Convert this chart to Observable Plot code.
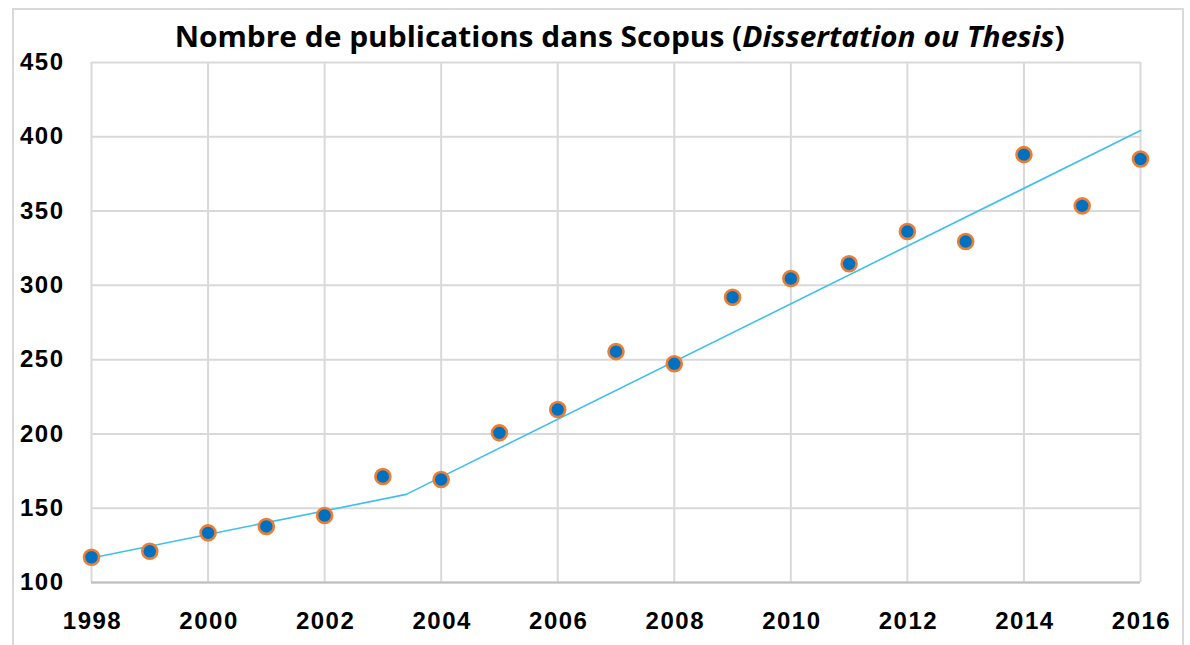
<!DOCTYPE html>
<html>
<head>
<meta charset="utf-8">
<script src="https://cdn.jsdelivr.net/npm/d3@7"></script>
<script src="https://cdn.jsdelivr.net/npm/@observablehq/plot@0.6"></script>
<style>
  html, body { margin: 0; padding: 0; background: #fff; width: 1190px; height: 645px; overflow: hidden; }
  #frame { position: absolute; left: 12px; top: 8px; width: 1172px; height: 660px; border: 2px solid #d9d9d9; box-sizing: border-box; }
  #title { position: absolute; left: 0; top: 17px; width: 1240px; text-align: center; white-space: nowrap;
           font-family: "Open Sans", "Liberation Sans", sans-serif; font-weight: 700; font-size: 28px; color: #000; }
  #title span { display: inline-block; transform-origin: center center; }
  #chart { position: absolute; left: 0; top: 50px; }
  #chart svg text { font-family: "Liberation Sans", Arial, sans-serif; font-weight: 700; font-size: 24px; letter-spacing: 1.5px; fill: #000; }
</style>
</head>
<body>
<div id="frame"></div>
<div id="title"><span id="tspan">Nombre de publications dans Scopus (<i>Dissertation ou Thesis</i>)</span></div>
<div id="chart"></div>
<script>
const years = [1998,1999,2000,2001,2002,2003,2004,2005,2006,2007,2008,2009,2010,2011,2012,2013,2014,2015,2016];
const publications = [117,121,133.4,137.7,145.1,171.3,169.3,200.7,216.4,255.4,247.2,292,304.6,314.5,336.2,329.5,388,353.5,385];
const trendYears = [1998, 2003.4, 2016];
const trendValues = [116.5, 159.3, 404.2];
const xTicks = [1998,2000,2002,2004,2006,2008,2010,2012,2014,2016];
const yTicks = [100,150,200,250,300,350,400,450];

const points = years.map((y, i) => ({year: y, value: publications[i]}));
const trend = trendYears.map((y, i) => ({year: y, value: trendValues[i]}));

const chart = Plot.plot({
  width: 1190,
  height: 595,
  marginLeft: 91,
  marginRight: 50,
  marginTop: 12,
  marginBottom: 63,
  style: {background: "transparent", overflow: "visible"},
  x: {domain: [1998, 2016], ticks: xTicks, tickFormat: d => String(d), label: null},
  y: {domain: [100, 450], ticks: yTicks, label: null},
  marks: [
    Plot.gridY(yTicks, {stroke: "#d9d9d9", strokeOpacity: 1, strokeWidth: 2}),
    Plot.gridX(xTicks, {stroke: "#d9d9d9", strokeOpacity: 1, strokeWidth: 2}),
    Plot.ruleY([100], {stroke: "#bfbfbf", strokeWidth: 2}),
    Plot.axisX({ticks: xTicks, tickSize: 0, tickPadding: 29, dx: 1, tickFormat: d => String(d), label: null}),
    Plot.axisY({ticks: yTicks, tickSize: 0, tickPadding: 27, label: null}),
    Plot.line(trend, {x: "year", y: "value", stroke: "#3dbff0", strokeWidth: 1.6}),
    Plot.dot(points, {x: "year", y: "value", r: 7.5, fill: "#0070c0", stroke: "#ed7d31", strokeWidth: 2.6})
  ]
});
document.getElementById("chart").appendChild(chart);

// fit title width to ~890px
const sp = document.getElementById("tspan");
const w = sp.getBoundingClientRect().width;
sp.style.transform = `scaleX(${890 / w})`;
</script>
</body>
</html>
